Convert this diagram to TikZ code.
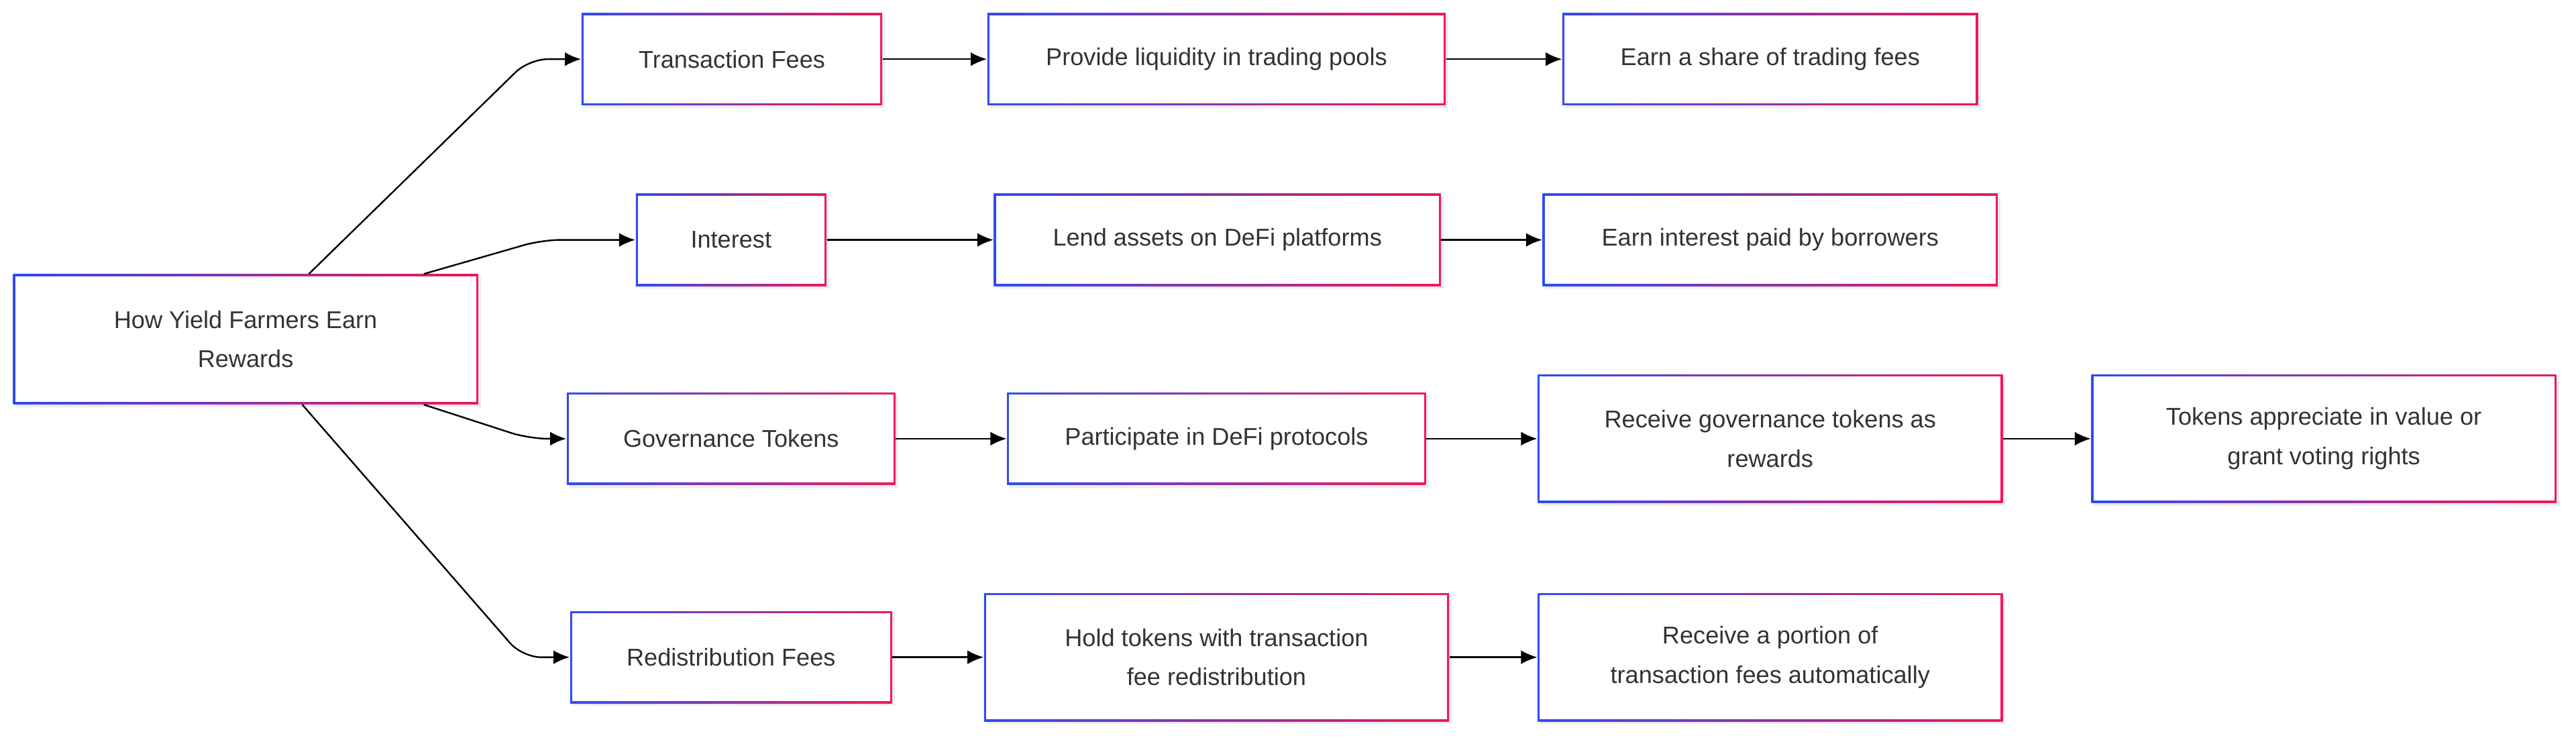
\documentclass[tikz,border=0pt]{standalone}
\usepackage{fontspec}
\setmainfont{Liberation Sans}
\usetikzlibrary{calc,shadows,arrows.meta}

\definecolor{edgeblue}{HTML}{2F4BF0}
\definecolor{edgepink}{HTML}{F0185A}
\definecolor{txt}{HTML}{333333}

\tikzset{
  card/.style={left color=edgeblue, right color=edgepink, draw=none,
    text=txt, align=center, font=\fontsize{10.5}{17}\selectfont,
    drop shadow={opacity=0.15, shadow xshift=1.2pt, shadow yshift=-1.2pt},
    path picture={\fill[white] ([shift={(0.9pt,0.9pt)}]path picture bounding box.south west)
      rectangle ([shift={(-0.9pt,-0.9pt)}]path picture bounding box.north east);}},
  link/.style={draw=black, line width=0.7pt, -{Latex[length=7pt,width=6pt]}, rounded corners=8pt}
}
% w and h in reference pixels
\newcommand{\cardbox}[5]{\node[card, minimum width=#3*0.025cm, minimum height=#4*0.025cm] (#1) at #2 {#5};}

\begin{document}
\begin{tikzpicture}[x=0.025cm,y=-0.025cm]
\useasboundingbox (0,0) rectangle (1568,449);

\cardbox{root}{(149.5,206.5)}{283}{79}{How Yield Farmers Earn\\Rewards}

% transaction fees
\cardbox{fees}{(445.5,36)}{183}{56}{Transaction Fees}
\cardbox{pool}{(740.5,36)}{279}{56}{Provide liquidity in trading pools}
\cardbox{share}{(1077.5,36)}{253}{56}{Earn a share of trading fees}

% interest
\cardbox{intr}{(445,146)}{116}{56}{Interest}
\cardbox{lend}{(741,146)}{272}{56}{Lend assets on DeFi platforms}
\cardbox{paid}{(1077.5,146)}{277}{56}{Earn interest paid by borrowers}

% governance
\cardbox{gov}{(445,267)}{200}{56}{Governance Tokens}
\cardbox{part}{(740.5,267)}{255}{56}{Participate in DeFi protocols}
\cardbox{recv}{(1077.5,267)}{283}{78}{Receive governance tokens as\\rewards}
\cardbox{vote}{(1414.5,267)}{283}{78}{Tokens appreciate in value or\\grant voting rights}

% redistribution
\cardbox{redis}{(445,400)}{196}{56}{Redistribution Fees}
\cardbox{hold}{(740.5,400)}{283}{78}{Hold tokens with transaction\\fee redistribution}
\cardbox{portion}{(1077.5,400)}{283}{78}{Receive a portion of\\transaction fees automatically}

\draw[link] ($(root.north)+(38.5,0)$) -- (322,36) -- (fees.west);
\draw[link] ($(root.north)+(108.5,0)$) -- (330,146) -- (intr.west);
\draw[link] ($(root.south)+(108.5,0)$) -- (322,267) -- (gov.west);
\draw[link] ($(root.south)+(34.5,0)$) -- (318,400) -- (redis.west);

\draw[link] (fees) -- (pool);
\draw[link] (pool) -- (share);
\draw[link] (intr) -- (lend);
\draw[link] (lend) -- (paid);
\draw[link] (gov) -- (part);
\draw[link] (part) -- (recv);
\draw[link] (recv) -- (vote);
\draw[link] (redis) -- (hold);
\draw[link] (hold) -- (portion);
\end{tikzpicture}
\end{document}
